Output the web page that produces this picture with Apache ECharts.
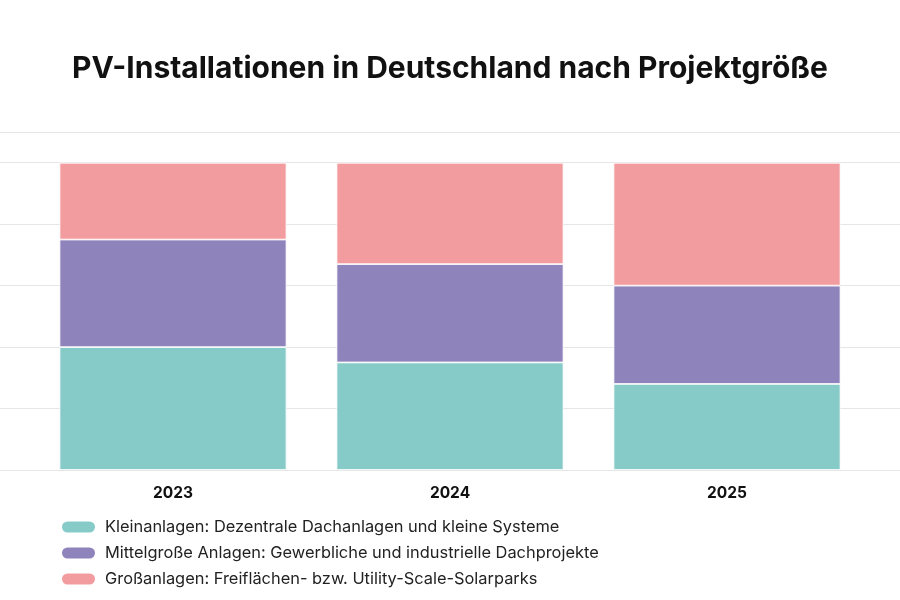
<!DOCTYPE html>
<html>
<head>
<meta charset="utf-8">
<script src="https://cdn.jsdelivr.net/npm/echarts@6/dist/echarts.min.js"></script>
<style>
  html, body { margin: 0; padding: 0; background: #fff; }
  #chart { width: 900px; height: 600px; }
</style>
</head>
<body>
<div id="chart"></div>
<script>
// Daten (Anteile in %)
const years = ["2023", "2024", "2025"];
const klein = [40, 35, 28];
const mittel = [35, 32, 32];
const gross = [25, 33, 40];
const seriesNames = [
    "Kleinanlagen: Dezentrale Dachanlagen und kleine Systeme",
    "Mittelgroße Anlagen: Gewerbliche und industrielle Dachprojekte",
    "Großanlagen: Freiflächen- bzw. Utility-Scale-Solarparks"
];
const colors = ["#86cbc8", "#8f83bc", "#f29c9f"];

let chart = echarts.init(document.getElementById("chart"), null, { renderer: "canvas" });

let barSeries = (name, data, color) => ({
    name: name,
    type: "bar",
    stack: "total",
    xAxisIndex: 1,
    yAxisIndex: 1,
    barWidth: 227,
    data: data,
    itemStyle: { color: color, borderColor: "#fff", borderWidth: 0.8 }
});

// Pillenform für die Legende
const pill = "path://M6.5,0 H28.5 A6.5,6.5 0 0 1 28.5,13 H6.5 A6.5,6.5 0 0 1 6.5,0 Z";

chart.setOption({
    backgroundColor: "#fff",
    textStyle: { fontFamily: "Inter" },
    title: {
        text: "PV-Installationen in Deutschland nach Projektgröße",
        left: "center",
        top: 49,
        textStyle: { fontFamily: "Inter", fontSize: 30, fontWeight: "bold", color: "#111" }
    },
    legend: {
        orient: "vertical",
        left: 60,
        top: 519,
        padding: 0,
        icon: pill,
        itemWidth: 35,
        itemHeight: 13,
        itemGap: 10,
        data: seriesNames,
        textStyle: { fontFamily: "Inter", fontSize: 16.4, color: "#222", padding: [0, 0, 0, 4] }
    },
    grid: [
        // volle Breite nur für Hilfslinien
        { left: 0, right: 0, top: 132, bottom: 130 },
        { left: 34.5, right: 34.5, top: 132, bottom: 130 }
    ],
    xAxis: [
        { gridIndex: 0, type: "value", show: false, min: 0, max: 1 },
        {
            gridIndex: 1,
            type: "category",
            data: years,
            axisLine: { show: false },
            axisTick: { show: false },
            axisLabel: { margin: 15, fontFamily: "Inter", fontSize: 15.5, fontWeight: "bold", color: "#111" }
        }
    ],
    yAxis: [
        {
            gridIndex: 0,
            type: "value",
            min: 0,
            max: 110,
            interval: 20,
            axisLabel: { show: false },
            axisLine: { show: false },
            axisTick: { show: false },
            splitLine: { lineStyle: { color: "#e6e6e6", width: 1 } }
        },
        {
            gridIndex: 1,
            type: "value",
            min: 0,
            max: 110,
            show: false,
            splitLine: { show: false }
        }
    ],
    series: [
        barSeries(seriesNames[0], klein, colors[0]),
        barSeries(seriesNames[1], mittel, colors[1]),
        barSeries(seriesNames[2], gross, colors[2])
    ]
});
</script>
</body>
</html>
